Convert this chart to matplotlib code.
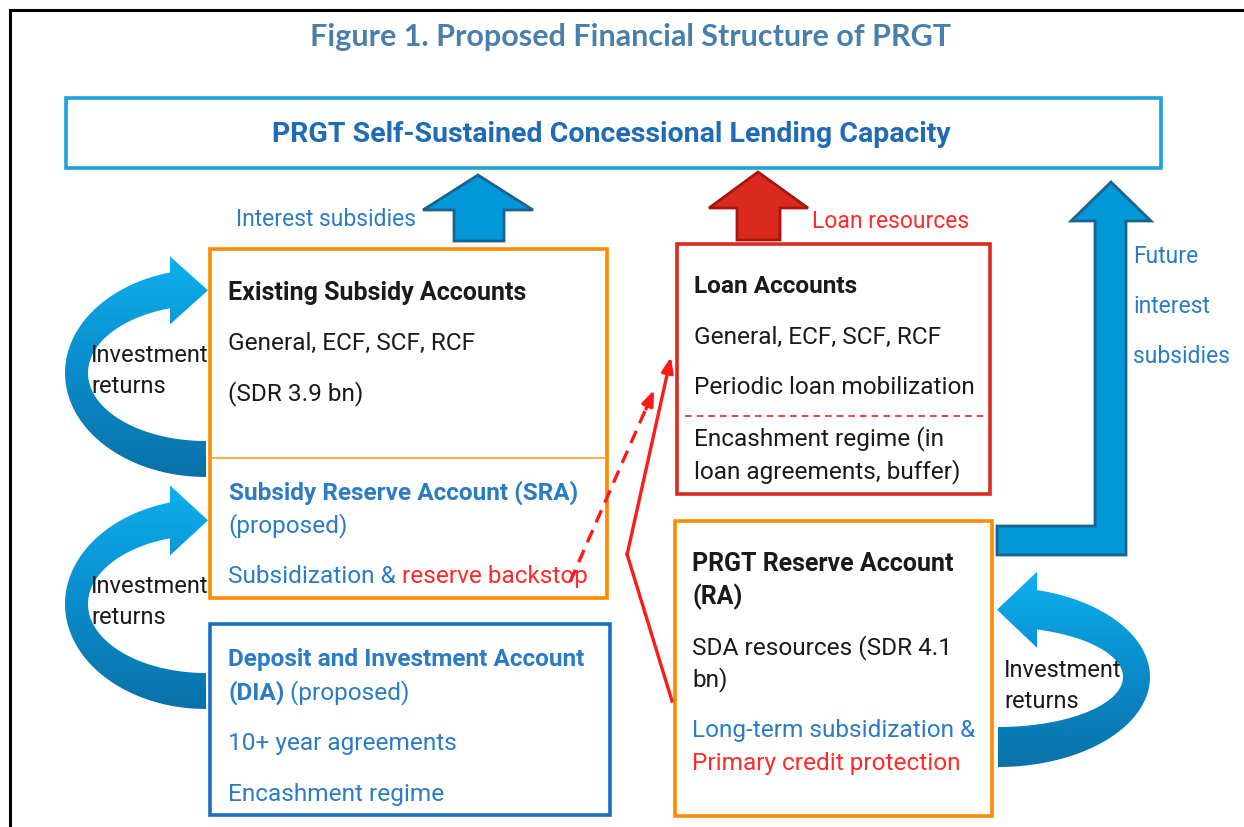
import numpy as np
import matplotlib
matplotlib.use("Agg")
import matplotlib.pyplot as plt
from matplotlib.patches import Rectangle, Polygon
from matplotlib.colors import LinearSegmentedColormap

# ---- text content ----
title = "Figure 1. Proposed Financial Structure of PRGT"
top_label = "PRGT Self-Sustained Concessional Lending Capacity"
flow_labels = ["Interest subsidies", "Loan resources"]
future_label = ["Future", "interest", "subsidies"]
invest_label = "Investment\nreturns"

esa_lines = ["Existing Subsidy Accounts", "General, ECF, SCF, RCF", "(SDR 3.9 bn)"]
sra_lines = ["Subsidy Reserve Account (SRA)", "(proposed)"]
sra_use = ["Subsidization & ", "reserve backstop"]
dia_lines = ["Deposit and Investment Account", "(DIA)", " (proposed)",
             "10+ year agreements", "Encashment regime"]
loan_lines = ["Loan Accounts", "General, ECF, SCF, RCF", "Periodic loan mobilization",
              "Encashment regime (in", "loan agreements, buffer)"]
ra_lines = ["PRGT Reserve Account", "(RA)", "SDA resources (SDR 4.1", "bn)"]
ra_use = ["Long-term subsidization &", "Primary credit protection"]

# ---- colours ----
TITLE_C = "#4a7eab"
BLUE_T = "#2b7cc4"
DARK_T = "#1f6cb4"
ORANGE = "#ff8a00"
RED = "#d92a20"
RED_T = "#ff2a2a"
DIA_C = "#1a70c0"
ARROW_B = "#0098d8"
ARROW_B_EDGE = "#1b628f"
BLACK_T = "#1a1a1a"
FS = 17.6  # body text size

plt.rcParams['font.family'] = ['Roboto', 'DejaVu Sans']

fig = plt.figure(figsize=(12.44, 8.28), dpi=100)
ax = fig.add_axes([0, 0, 1, 1])
ax.set_xlim(0, 1244)
ax.set_ylim(828, 0)
ax.axis('off')

# outer frame
ax.plot([10, 10], [828, 11], color='black', lw=2.2, solid_capstyle='projecting')
ax.plot([10, 1244], [11, 11], color='black', lw=2.2)

ax.text(631, 37, title, ha='center', va='center', fontsize=22, fontweight='bold',
        color=TITLE_C, family=['Lato', 'DejaVu Sans'])

# top box
ax.add_patch(Rectangle((66, 99), 1095, 70, fill=False, ec="#1ea2dc", lw=2.6))
ax.text(611, 135, top_label, ha='center', va='center', fontsize=20.5,
        fontweight='bold', color=DARK_T)


def box(x, y, w, h, color, lw=2.6):
    ax.add_patch(Rectangle((x, y), w, h, fc='white', ec=color, lw=lw, zorder=3))


def curl(cx, cy, rxo, ryo, rxi, ryi, head_x, tip_x, half, side):
    # crescent shaped arrow, tail at bottom, head at top
    def end_angle(rx):
        c = (head_x - cx) / (side * rx)
        return 2 * np.pi - np.arccos(c)
    phi_o = np.linspace(np.pi / 2, end_angle(rxo), 80)
    phi_i = np.linspace(end_angle(rxi), np.pi / 2, 80)
    outer = np.column_stack([cx + side * rxo * np.cos(phi_o), cy + ryo * np.sin(phi_o)])
    inner = np.column_stack([cx + side * rxi * np.cos(phi_i), cy + ryi * np.sin(phi_i)])
    yc = (outer[-1, 1] + inner[0, 1]) / 2
    head = np.array([[head_x, yc - half], [tip_x, yc], [head_x, yc + half]])
    pts = np.vstack([outer, head, inner])
    patch = Polygon(pts, closed=True, fc='none', ec='none', zorder=1)
    ax.add_patch(patch)
    cmap = LinearSegmentedColormap.from_list('b', ["#0db0ee", "#0a8ccc", "#0a72a8"])
    grad = np.linspace(0, 1, 200).reshape(-1, 1)
    x0, x1 = pts[:, 0].min(), pts[:, 0].max()
    y0, y1 = pts[:, 1].min(), pts[:, 1].max()
    im = ax.imshow(grad, cmap=cmap, extent=(x0, x1, y1, y0), origin='upper',
                   aspect='auto', zorder=1)
    im.set_clip_path(patch)


# investment-return curls
curl(206, 374, 141, 104, 118, 68, 170, 208, 34, 1)
curl(206, 605, 141, 105, 118, 69, 170, 208, 35, 1)
curl(998, 678, 152, 90, 125, 50, 1037, 997, 38, -1)
ax.set_xlim(0, 1244)
ax.set_ylim(828, 0)

for x, y in [(91, 371), (91, 602), (1004, 686)]:
    ax.text(x, y, invest_label, ha='left', va='center', fontsize=17,
            color=BLACK_T, linespacing=1.45, zorder=5)

# straight block arrows
blue_up = [(454, 242), (454, 211), (423, 211), (478, 176), (533, 211), (504, 211), (504, 242)]
ax.add_patch(Polygon(blue_up, fc=ARROW_B, ec=ARROW_B_EDGE, lw=2, zorder=2))
red_up = [(737, 241), (737, 209), (709, 209), (758, 173), (808, 209), (780, 209), (780, 241)]
ax.add_patch(Polygon(red_up, fc="#da2a1e", ec="#a8140e", lw=2, zorder=2))
l_arrow = [(997, 527), (1095, 527), (1095, 222), (1071, 222), (1111, 183),
           (1151, 222), (1126, 222), (1126, 556), (997, 556)]
ax.add_patch(Polygon(l_arrow, fc=ARROW_B, ec=ARROW_B_EDGE, lw=2, zorder=2))

ax.text(416, 220, flow_labels[0], ha='right', va='center', fontsize=16.5, color=BLUE_T)
ax.text(812, 222, flow_labels[1], ha='left', va='center', fontsize=16.5, color=RED_T)
for i, s in enumerate(future_label):
    ax.text(1133, 257 + 50 * i, s, ha='left', va='center', fontsize=16.5, color=BLUE_T)

# existing subsidy accounts box
box(210, 250, 397, 349, ORANGE)
ax.plot([210, 607], [459, 459], color="#f5a623", lw=1.2, zorder=4)
ax.text(228, 293, esa_lines[0], ha='left', va='center', fontsize=FS + 0.4,
        fontweight='bold', color=BLACK_T, zorder=5)
ax.text(228, 343, esa_lines[1], ha='left', va='center', fontsize=FS, color=BLACK_T, zorder=5)
ax.text(228, 394, esa_lines[2], ha='left', va='center', fontsize=FS, color=BLACK_T, zorder=5)
ax.text(229, 493, sra_lines[0], ha='left', va='center', fontsize=FS,
        fontweight='bold', color=BLUE_T, zorder=5)
ax.text(228, 526, sra_lines[1], ha='left', va='center', fontsize=FS, color=BLUE_T, zorder=5)
t1 = ax.text(228, 577, sra_use[0], ha='left', va='center', fontsize=FS, color=BLUE_T, zorder=5)
ax.annotate(sra_use[1], xy=(1, 0.5), xycoords=t1, ha='left', va='center',
            fontsize=FS, color=RED_T, zorder=5)

# DIA box
box(210, 625, 400, 191, DIA_C)
ax.text(228, 660, dia_lines[0], ha='left', va='center', fontsize=FS,
        fontweight='bold', color=BLUE_T, zorder=5)
t2 = ax.text(228, 693, dia_lines[1], ha='left', va='center', fontsize=FS,
             fontweight='bold', color=BLUE_T, zorder=5)
ax.annotate(dia_lines[2], xy=(1, 0.5), xycoords=t2, ha='left', va='center',
            fontsize=FS, color=BLUE_T, zorder=5)
ax.text(228, 744, dia_lines[3], ha='left', va='center', fontsize=FS, color=BLUE_T, zorder=5)
ax.text(228, 795, dia_lines[4], ha='left', va='center', fontsize=FS, color=BLUE_T, zorder=5)

# loan accounts box
box(677, 245, 313, 250, RED)
ax.plot([685, 988], [417, 417], color=RED, lw=1.2, ls=(0, (4, 3)), zorder=4)
ax.text(694, 287, loan_lines[0], ha='left', va='center', fontsize=FS,
        fontweight='bold', color=BLACK_T, zorder=5)
for y, s in zip([337, 388, 439, 472], loan_lines[1:]):
    ax.text(694, y, s, ha='left', va='center', fontsize=FS, color=BLACK_T, zorder=5)

# reserve account box
box(675, 522, 317, 295, ORANGE)
ax.text(692, 564, ra_lines[0], ha='left', va='center', fontsize=FS + 0.4,
        fontweight='bold', color=BLACK_T, zorder=5)
ax.text(692, 597, ra_lines[1], ha='left', va='center', fontsize=FS + 0.4,
        fontweight='bold', color=BLACK_T, zorder=5)
ax.text(692, 648, ra_lines[2], ha='left', va='center', fontsize=FS, color=BLACK_T, zorder=5)
ax.text(692, 680, ra_lines[3], ha='left', va='center', fontsize=FS, color=BLACK_T, zorder=5)
ax.text(692, 731, ra_use[0], ha='left', va='center', fontsize=FS, color=BLUE_T, zorder=5)
ax.text(692, 764, ra_use[1], ha='left', va='center', fontsize=FS, color=RED_T, zorder=5)

# red connectors
ax.plot([672, 627], [702, 555], color='#ff1a1a', lw=2.4, zorder=6)
ax.annotate('', xy=(671, 358), xytext=(627, 556),
            arrowprops=dict(arrowstyle='-|>,head_length=0.9,head_width=0.35',
                            color='#ff1a1a', lw=2.4, shrinkA=0, shrinkB=0), zorder=6)
ax.plot([570, 648], [583, 405], color='#ff1a1a', lw=2.4, ls=(0, (4, 2.5)), zorder=6)
ax.annotate('', xy=(654, 391), xytext=(646, 410),
            arrowprops=dict(arrowstyle='-|>,head_length=0.9,head_width=0.35',
                            color='#ff1a1a', lw=2.4, shrinkA=0, shrinkB=0), zorder=6)

fig.savefig("out.png", dpi=100)
